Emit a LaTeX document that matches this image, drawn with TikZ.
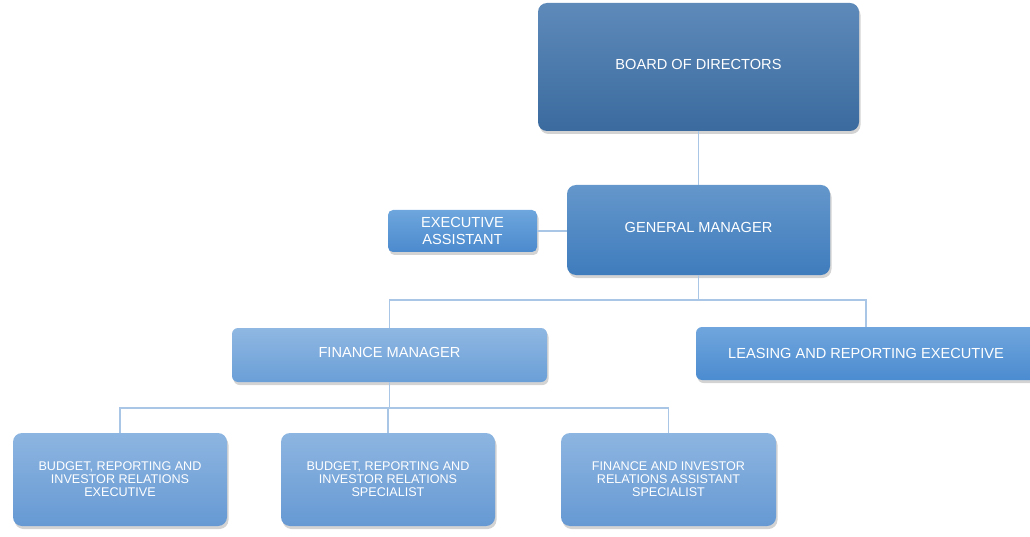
\documentclass[tikz,border=0pt]{standalone}
\usepackage{fontspec}
\setmainfont{Liberation Sans}
\usetikzlibrary{shadows}
\definecolor{bdT}{HTML}{5D8AB9}
\definecolor{bdB}{HTML}{3B6A9F}
\definecolor{gmT}{HTML}{6497CB}
\definecolor{gmB}{HTML}{3F7CBD}
\definecolor{eaT}{HTML}{6EA6DD}
\definecolor{eaB}{HTML}{4B8ACE}
\definecolor{fmT}{HTML}{8FB7E2}
\definecolor{fmB}{HTML}{6A9FD7}
\definecolor{lsT}{HTML}{70A6DD}
\definecolor{lsB}{HTML}{4B8BD0}
\definecolor{lwT}{HTML}{8DB5E1}
\definecolor{lwB}{HTML}{6699D3}
\definecolor{linec}{HTML}{A9C6E6}
\begin{document}
\begin{tikzpicture}[x=1pt,y=-1pt,
  box/.style={rounded corners=9pt, text=white, align=center, inner sep=0pt,
    drop shadow={opacity=0.35, shadow xshift=1.5pt, shadow yshift=-3pt}},
  bigtext/.style={font=\fontsize{14.6}{16.5}\selectfont},
  smalltext/.style={font=\fontsize{12.6}{13}\selectfont},
  raised/.style={text height=10.5pt, text depth=5pt},
  link/.style={draw=linec, line width=1.3pt}]
\useasboundingbox (0,0) rectangle (1030,537);
\node[box, bigtext, raised, minimum width=321pt, minimum height=128pt, top color=bdT, bottom color=bdB] (bd) at (698.5,67) {BOARD OF DIRECTORS};
\node[box, bigtext, raised, minimum width=263pt, minimum height=90pt, top color=gmT, bottom color=gmB] (gm) at (698.5,230) {GENERAL MANAGER};
\node[box, bigtext, minimum width=149pt, minimum height=42pt, rounded corners=5pt, top color=eaT, bottom color=eaB] (ea) at (462.5,231) {EXECUTIVE\\ASSISTANT};
\node[box, bigtext, raised, minimum width=315pt, minimum height=54pt, rounded corners=6pt, top color=fmT, bottom color=fmB] (fm) at (389.5,355) {FINANCE MANAGER};
\node[box, bigtext, minimum width=340pt, minimum height=53pt, rounded corners=6pt, top color=lsT, bottom color=lsB] (ls) at (866,353.5) {LEASING AND REPORTING EXECUTIVE};
\node[box, smalltext, minimum width=214pt, minimum height=93pt, top color=lwT, bottom color=lwB] (b1) at (120,479.5) {BUDGET, REPORTING AND\\INVESTOR RELATIONS\\EXECUTIVE};
\node[box, smalltext, minimum width=214pt, minimum height=93pt, top color=lwT, bottom color=lwB] (b2) at (388,479.5) {BUDGET, REPORTING AND\\INVESTOR RELATIONS\\SPECIALIST};
\node[box, smalltext, minimum width=215pt, minimum height=93pt, top color=lwT, bottom color=lwB] (b3) at (668.5,479.5) {FINANCE AND INVESTOR\\RELATIONS ASSISTANT\\SPECIALIST};
\coordinate (j1) at (700,300);
\coordinate (j2) at (391,408);
\draw[link] (bd.south) -- (gm.north);
\draw[link] (ea.east) -- (ea.east -| gm.west);
\draw[link] (gm.south) -- (gm.south |- j1);
\draw[link] (fm.north) |- (j1) -| (ls.north);
\draw[link] (fm.south) -- (fm.south |- j2);
\draw[link] (b1.north) |- (j2) -| (b3.north);
\draw[link] (b2.north) -- (b2.north |- j2);
\end{tikzpicture}
\end{document}
